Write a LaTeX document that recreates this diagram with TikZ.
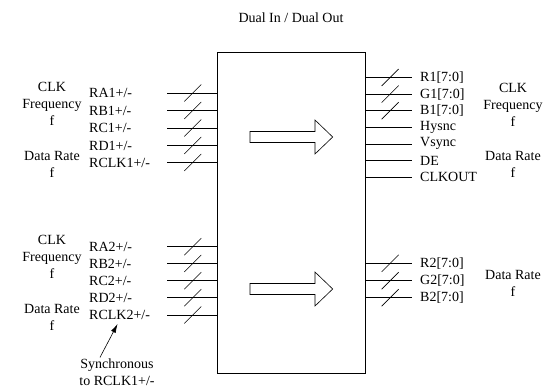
\documentclass[tikz,border=0pt]{standalone}
\usepackage{fontspec}
\setmainfont{Liberation Serif}
\usetikzlibrary{decorations.markings,arrows.meta}
\tikzset{
  bus/.style={postaction={decorate,decoration={markings,
    mark=at position #1 with {\draw[line width=0.6pt] (-8.5pt,-8.5pt) -- (8.5pt,8.5pt);}}}},
  sig/.style={draw=black, line width=0.8pt},
  lbl/.style={anchor=west, inner sep=0pt},
  note/.style={align=center, inner sep=0pt},
}
\begin{document}
\begin{tikzpicture}[x=1pt,y=-1pt,font=\fontsize{14}{17}\selectfont]
  \useasboundingbox (0,0) rectangle (547,389);
  % Chip body and title
  \node[draw, line width=0.9pt, minimum width=148pt, minimum height=321pt, inner sep=0pt] (chip) at (291,212.5) {};
  \node (title) at (291,18) {Dual In / Dual Out};
  % Inputs, link 1
  \foreach \yy/\sname [count=\i] in {93/RA1, 110.5/RB1, 128/RC1, 145.5/RD1, 162.5/RCLK1} {
    \node[lbl] (inA\i) at (89,\yy) {\sname+/-};
    \coordinate (inAend\i) at (167,\yy);
    \draw[sig, bus=0.52] (inAend\i) -- (inAend\i -| chip.west);
  }
  \node[note] (clkA) at (52,104) {CLK\\Frequency\\f};
  \node[note] (rateA) at (52,164.5) {Data Rate\\f};
  % Inputs, link 2
  \foreach \yy/\sname [count=\i] in {246.7/RA2, 263.5/RB2, 280.7/RC2, 297.7/RD2, 315/RCLK2} {
    \node[lbl] (inB\i) at (89,\yy) {\sname+/-};
    \coordinate (inBend\i) at (167,\yy);
    \draw[sig, bus=0.52] (inBend\i) -- (inBend\i -| chip.west);
  }
  \node[note] (clkB) at (52,256.5) {CLK\\Frequency\\f};
  \node[note] (rateB) at (52,317) {Data Rate\\f};
  % Synchronous note
  \node[note] (sync) at (117,372) {Synchronous\\to RCLK1+/-};
  \draw[line width=0.6pt, -{Latex[length=9pt,width=5pt]}] ([xshift=-17pt,yshift=1pt]sync.north) -- ([xshift=-2pt,yshift=-4pt]inB5.south);
  % Outputs, port 1
  \foreach \yy/\sname [count=\i] in {77.5/R1[7:0], 94.1/G1[7:0], 110.7/B1[7:0]} {
    \coordinate (outAend\i) at (412,\yy);
    \node[lbl] (outA\i) at (420,\yy) {\sname};
    \draw[sig, bus=0.53] (outAend\i -| chip.east) -- (outAend\i);
  }
  \foreach \yy/\sname [count=\i from 4] in {127.3/Hysnc, 143.9/Vsync, 160.5/DE, 177.1/CLKOUT} {
    \coordinate (outAend\i) at (412,\yy);
    \node[lbl] (outA\i) at (420,\yy) {\sname};
    \draw[sig] (outAend\i -| chip.east) -- (outAend\i);
  }
  \node[note] (clkC) at (513,105) {CLK\\Frequency\\f};
  \node[note] (rateC) at (513,164) {Data Rate\\f};
  % Outputs, port 2
  \foreach \yy/\sname [count=\i] in {263.3/R2[7:0], 280.7/G2[7:0], 297.7/B2[7:0]} {
    \coordinate (outBend\i) at (412,\yy);
    \node[lbl] (outB\i) at (420,\yy) {\sname};
    \draw[sig, bus=0.53] (outBend\i -| chip.east) -- (outBend\i);
  }
  \node[note] (rateD) at (513,283.3) {Data Rate\\f};
  % Block arrows
  \foreach \yc in {137,289} {
    \draw[line width=0.6pt] (250,\yc-5.5) -- (315,\yc-5.5) -- (315,\yc-17) -- (332.7,\yc)
      -- (315,\yc+17) -- (315,\yc+5.5) -- (250,\yc+5.5) -- cycle;
  }
\end{tikzpicture}
\end{document}
